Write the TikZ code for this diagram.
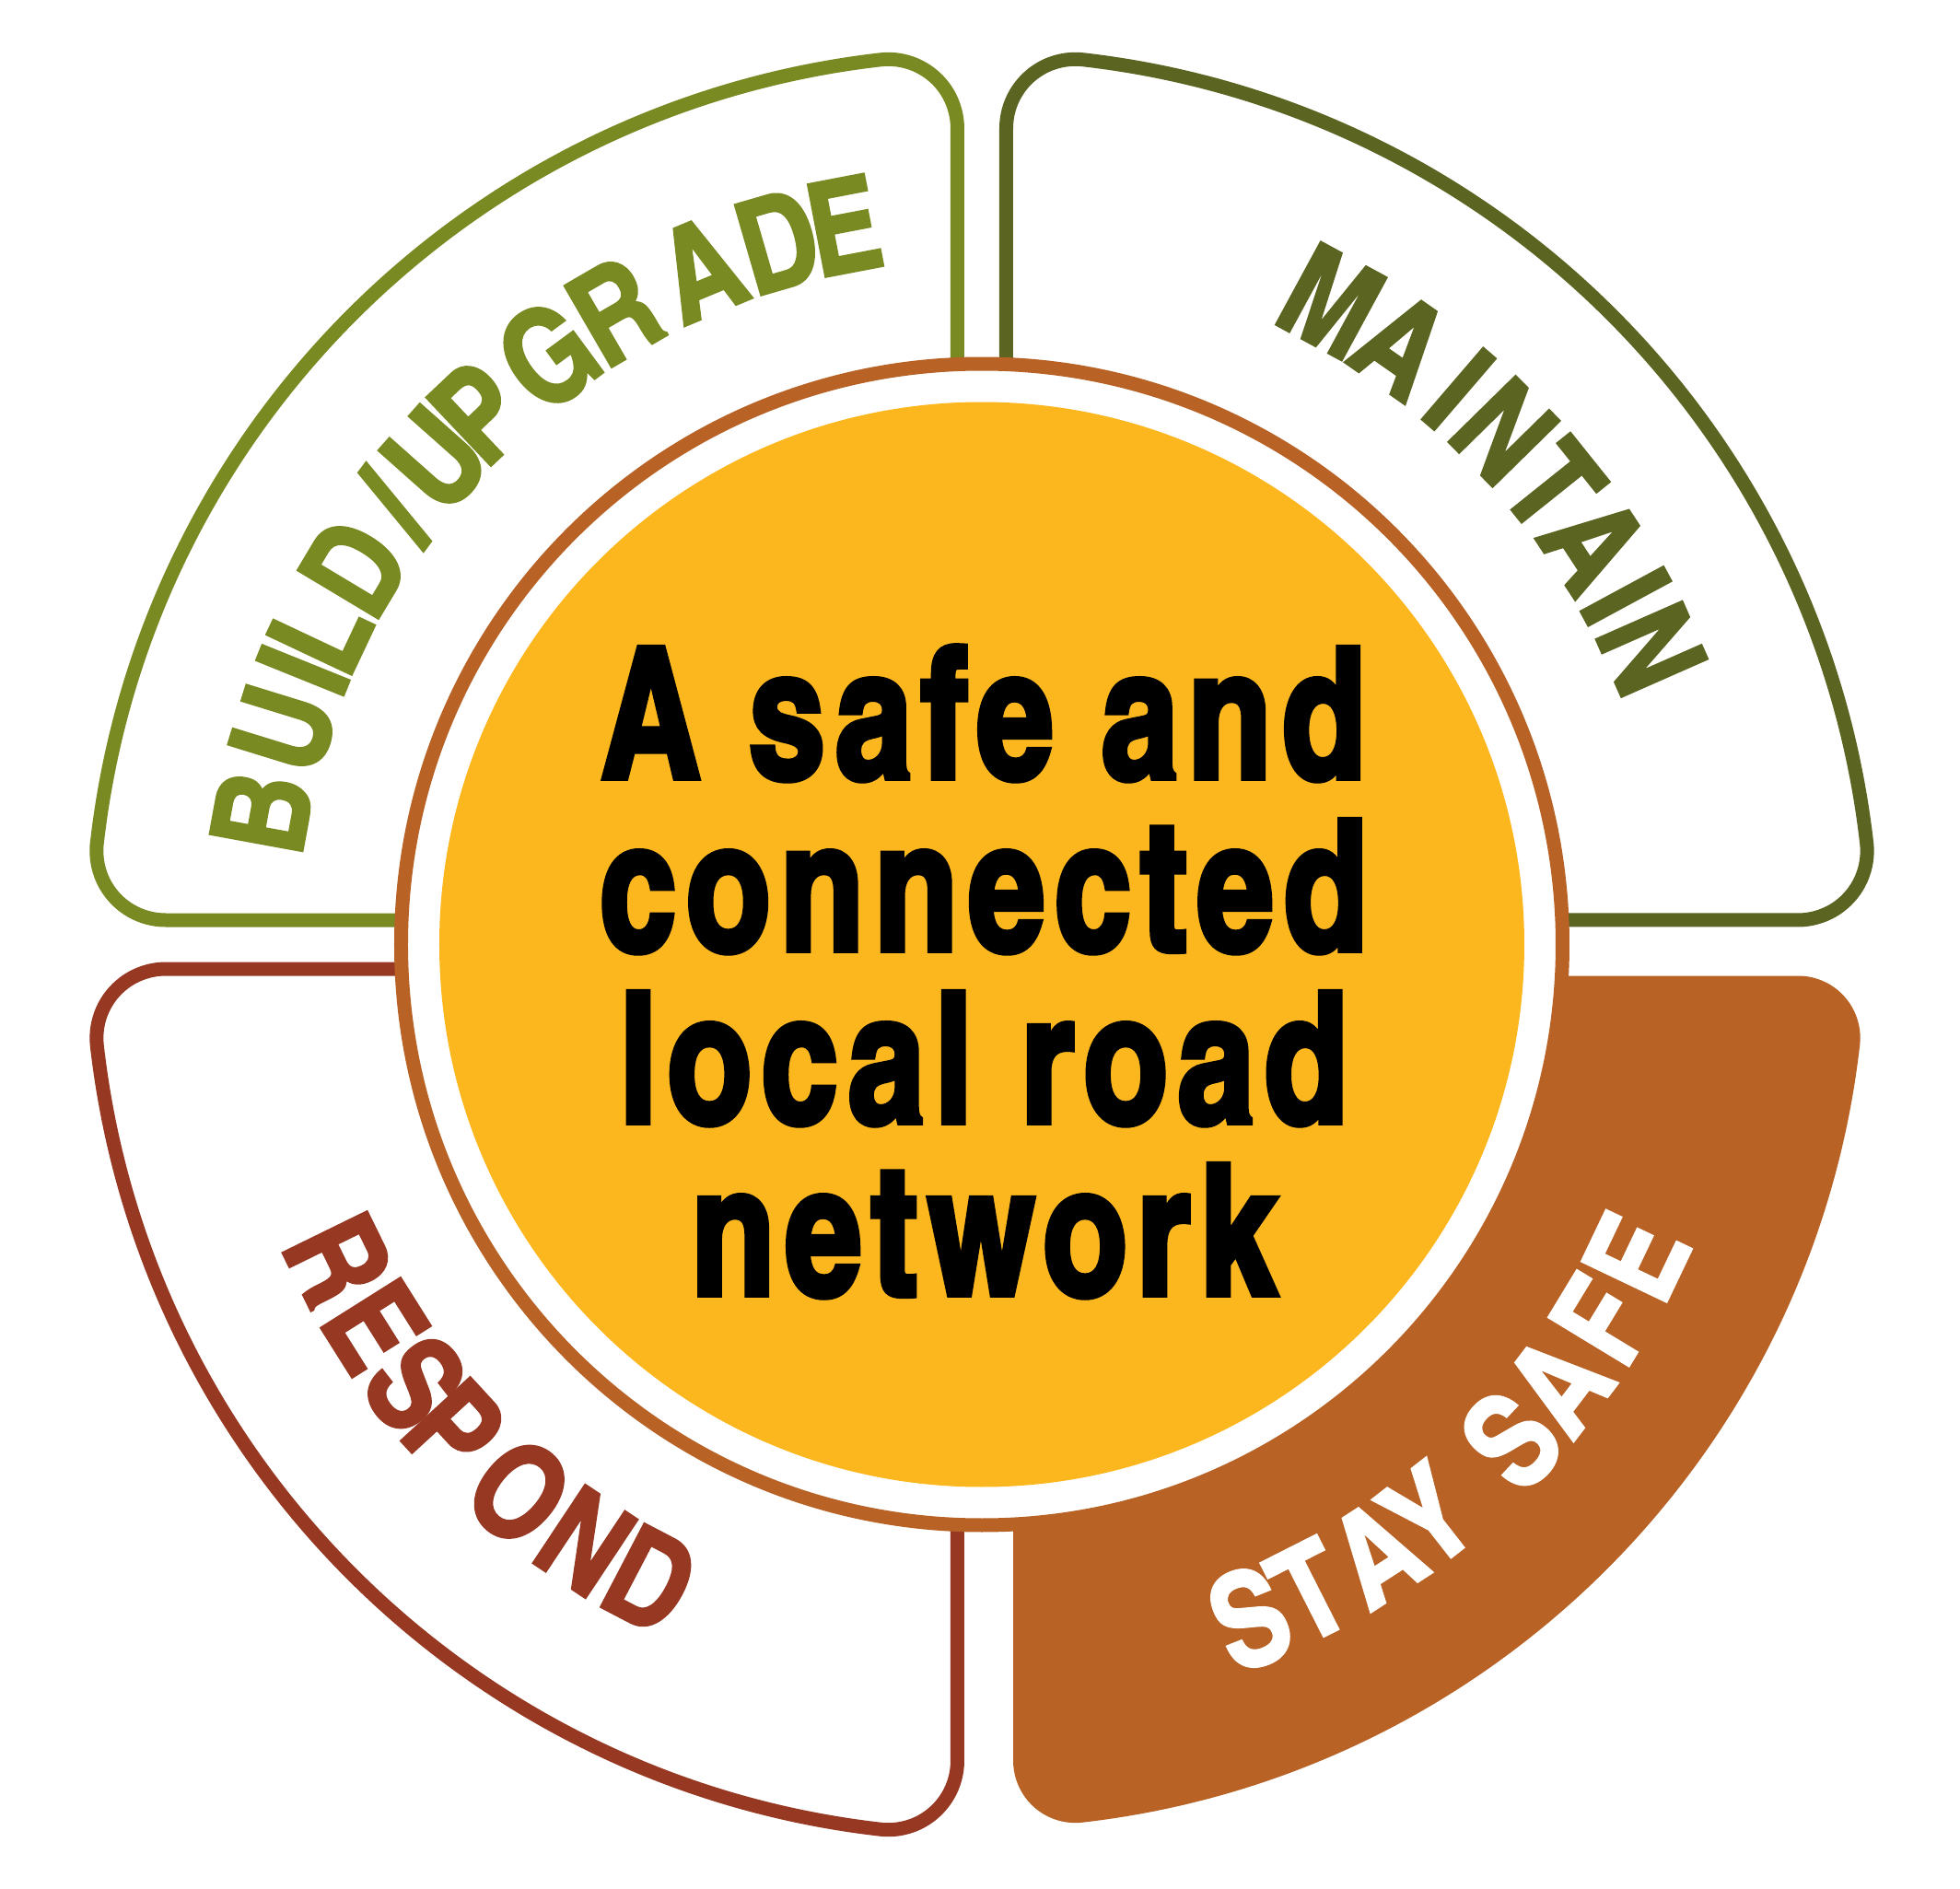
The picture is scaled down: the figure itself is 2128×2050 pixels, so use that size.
\documentclass[tikz,border=0pt]{standalone}
\usepackage{fontspec}
\newfontfamily\cnfont{texgyreheroscn-bold}[Extension=.otf, FakeBold=1.8]
\newfontfamily\cnblack{texgyreheroscn-bold}[Extension=.otf, FakeBold=3, FakeStretch=0.92, LetterSpace=5.5]
\definecolor{buildgreen}{RGB}{122,138,34}
\definecolor{maintaingreen}{RGB}{91,100,32}
\definecolor{respondred}{RGB}{151,56,34}
\definecolor{staybrown}{RGB}{184,98,38}
\definecolor{roadyellow}{RGB}{253,183,30}

\begin{document}
\begin{tikzpicture}[x=0.1mm, y=0.1mm]
  \tikzset{petal/.style = {line width=1.5mm, line join=round, fill=white}}
  \tikzset{arclabel/.style = {inner sep=0pt, anchor=base, font=\cnfont\fontsize{40.4pt}{40pt}\selectfont}}
  \tikzset{centre/.style = {inner sep=0pt, anchor=base, font=\cnblack\fontsize{56.3pt}{53pt}\selectfont}}

  \useasboundingbox (-1066,-1024.5) rectangle (1062,1025.5);

  % outlined quarters
  \foreach \ang/\col in {90/buildgreen, 0/maintaingreen, 180/respondred}
    \draw[petal, draw=\col, rotate=\ang] (26.5,26.5) -- (26.5,886.21)
      arc[start angle=180, end angle=83.466, radius=75]
      arc[start angle=83.466, end angle=6.534, radius=967]
      arc[start angle=6.534, end angle=-90, radius=75] -- cycle;

  % filled quarter
  \fill[staybrown, rotate=-90] (34,34) -- (34,886.21)
    arc[start angle=180, end angle=83.466, radius=67.5]
    arc[start angle=83.466, end angle=6.534, radius=959.5]
    arc[start angle=6.534, end angle=-90, radius=67.5] -- cycle;

  % hub
  \node[circle, draw=staybrown, line width=1.5mm, fill=white, minimum size=12.61cm, inner sep=0pt] (ring) at (0,0) {};
  \node[circle, fill=roadyellow, minimum size=11.78cm, inner sep=0pt] (hub) at (0,0) {};

  \node[centre] (l1) at (2,180.5) {A safe and};
  \node[centre] (l2) at (2,-6.5) {connected};
  \node[centre] (l3) at (2,-193.5) {local road};
  \node[centre] (l4) at (2,-380.5) {network};

  % labels on the arcs
  \foreach \a/\ch [count=\i] in {169.6/B, 162.85/U, 158.0/I, 154.75/L, 149.06/D, 143.3/{/},
      138.4/U, 133.4/P, 126.4/G, 120.1/R, 112.6/A, 106.2/D, 100.85/E}
    \node[arclabel, text=buildgreen, rotate=\a-90] (b\i) at (\a:744) {\ch};
  \foreach \a/\ch [count=\i] in {61.5/M, 55.0/A, 49.35/I, 44.5/N, 38.7/T, 33.2/A, 28.4/I, 23.8/N}
    \node[arclabel, text=maintaingreen, rotate=\a-90] (m\i) at (\a:744) {\ch};
  \foreach \a/\ch [count=\i] in {-68.3/S, -63.1/T, -57.05/A, -52.0/Y, -43.1/S, -37.3/A, -31.25/F, -25.5/E}
    \node[arclabel, text=white, rotate=\a+90] (s\i) at (\a:838) {\ch};
  \foreach \a/\ch [count=\i] in {206.1/R, 212.2/E, 217.8/S, 222.6/P, 229.8/O, 236.4/N, 242.4/D}
    \node[arclabel, text=respondred, rotate=\a+90] (r\i) at (\a:829) {\ch};
\end{tikzpicture}
\end{document}
